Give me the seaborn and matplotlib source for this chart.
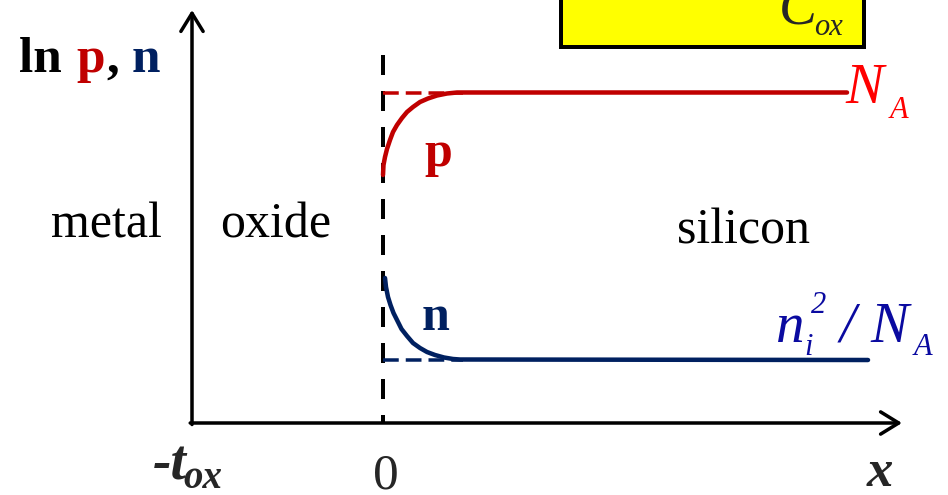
import matplotlib
matplotlib.use("Agg")
import matplotlib.pyplot as plt
from matplotlib.patches import Rectangle
import seaborn as sns

# Distance into the silicon (depletion edge near 0.8) and log carrier densities
x_hole = [0.0, 0.005, 0.02, 0.04, 0.07, 0.10, 0.14, 0.19, 0.24, 0.30, 0.37,
          0.45, 0.54, 0.64, 0.74, 0.80, 4.64]
ln_p = [2.48, 2.58, 2.66, 2.74, 2.83, 2.91, 2.98, 3.05, 3.11, 3.16, 3.21,
        3.245, 3.275, 3.295, 3.305, 3.305, 3.305]
x_elec = [0.02, 0.03, 0.05, 0.075, 0.105, 0.14, 0.185, 0.24, 0.30, 0.37,
          0.44, 0.52, 0.61, 0.70, 0.77, 4.85]
ln_n = [1.45, 1.36, 1.26, 1.18, 1.10, 1.03, 0.94, 0.87, 0.80, 0.75,
        0.71, 0.68, 0.655, 0.64, 0.635, 0.63]

# Bulk equilibrium levels shown as dashed references across the depletion region
x_ref = [0.0, 0.80]
ln_NA = [3.305, 3.305]
ln_n0 = [0.63, 0.63]

# Oxide/silicon interface and the oxide edge
x_interface = [0.0, 0.0]
y_interface = [3.68, 0.0]
t_ox = -1.91

RED = "#C00000"
NAVY = "#002060"
BLUE = "#0A0AA0"

sns.set_theme(style="white")
plt.rcParams["font.family"] = ["Liberation Serif", "DejaVu Serif"]

fig = plt.figure(figsize=(9.48, 4.95), dpi=100)
ax = fig.add_axes([0, 0, 1, 1])
ax.set_xlim(-3.83, 5.65)
ax.set_ylim(-0.72, 4.23)
ax.axis("off")

PX = 0.72  # one pixel in points

# Axes with open arrowheads
arrow = dict(arrowstyle="->,head_length=1.3,head_width=0.8", lw=3.5 * PX,
             color="black", shrinkA=0, shrinkB=0, mutation_scale=10)
ax.annotate("", xy=(t_ox, 4.13), xytext=(t_ox, -0.015), arrowprops=arrow)
ax.annotate("", xy=(5.19, 0.0), xytext=(t_ox - 0.018, 0.0), arrowprops=arrow)

# Interface
ax.plot(x_interface, y_interface, color="black", lw=4 * PX,
        dashes=(5, 4.0), zorder=2)

# Reference levels
sns.lineplot(x=x_ref, y=ln_NA, ax=ax, color=RED, lw=3.5 * PX, zorder=2)
ax.lines[-1].set_dashes((4.5, 2))
sns.lineplot(x=x_ref, y=ln_n0, ax=ax, color=NAVY, lw=3.5 * PX, zorder=2)
ax.lines[-1].set_dashes((4.5, 2))

# Carrier profiles
sns.lineplot(x=x_hole, y=ln_p, ax=ax, color=RED, lw=4.5 * PX, sort=False,
             estimator=None, zorder=3)
sns.lineplot(x=x_elec, y=ln_n, ax=ax, color=NAVY, lw=4.5 * PX, sort=False,
             estimator=None, zorder=3)

# Oxide capacitance box
ax.add_patch(Rectangle((1.78, 3.76), 3.03, 1.0, facecolor="#FFFF00",
                       edgecolor="black", lw=4 * PX, zorder=4))
ax.text(3.96, 3.99, "C", fontsize=41, style="italic", ha="left",
        va="baseline", zorder=5)
ax.text(4.31, 3.88, "ox", fontsize=22, style="italic", ha="left",
        va="baseline", zorder=5)

# Vertical axis label
ylab = dict(fontsize=37, fontweight="bold", va="baseline", ha="left")
ax.text(-3.64, 3.51, "ln", color="black", **ylab)
ax.text(-3.07, 3.51, "p", color=RED, **ylab)
ax.text(-2.77, 3.51, ",", color="black", **ylab)
ax.text(-2.51, 3.51, "n", color=NAVY, **ylab)

# Regions
region = dict(fontsize=36, va="baseline", ha="center", color="black")
ax.text(-2.765, 1.85, "metal", **region)
ax.text(-1.075, 1.85, "oxide", **region)
ax.text(3.61, 1.79, "silicon", **region)

# Curve labels
ax.text(0.555, 2.57, "p", fontsize=36, fontweight="bold", color=RED,
        ha="center", va="baseline")
ax.text(0.53, 0.93, "n", fontsize=36, fontweight="bold", color=NAVY,
        ha="center", va="baseline")

# Level labels
ital = dict(style="italic", ha="left", va="baseline")
ax.text(4.62, 3.20, "N", fontsize=41, color="#FF0000", **ital)
ax.text(5.07, 3.05, "A", fontsize=22, color="#FF0000", **ital)

ax.text(3.93, 0.81, "n", fontsize=41, color=BLUE, **ital)
ax.text(4.21, 0.68, "i", fontsize=22, color=BLUE, **ital)
ax.text(4.28, 1.10, "2", fontsize=22, color=BLUE, **ital)
ax.text(4.57, 0.81, "/", fontsize=41, color=BLUE, **ital)
ax.text(4.87, 0.81, "N", fontsize=41, color=BLUE, **ital)
ax.text(5.31, 0.68, "A", fontsize=22, color=BLUE, **ital)

# Horizontal axis labels
ax.text(-2.30, -0.56, "-t", fontsize=40, fontweight="bold", **ital)
ax.text(-2.00, -0.655, "ox", fontsize=28, fontweight="bold", **ital)
ax.text(0.025, -0.655, "0", fontsize=37, ha="center", va="baseline")
ax.text(4.965, -0.63, "x", fontsize=38, fontweight="bold", style="italic",
        ha="center", va="baseline")

fig.savefig("out.png", dpi=100)
